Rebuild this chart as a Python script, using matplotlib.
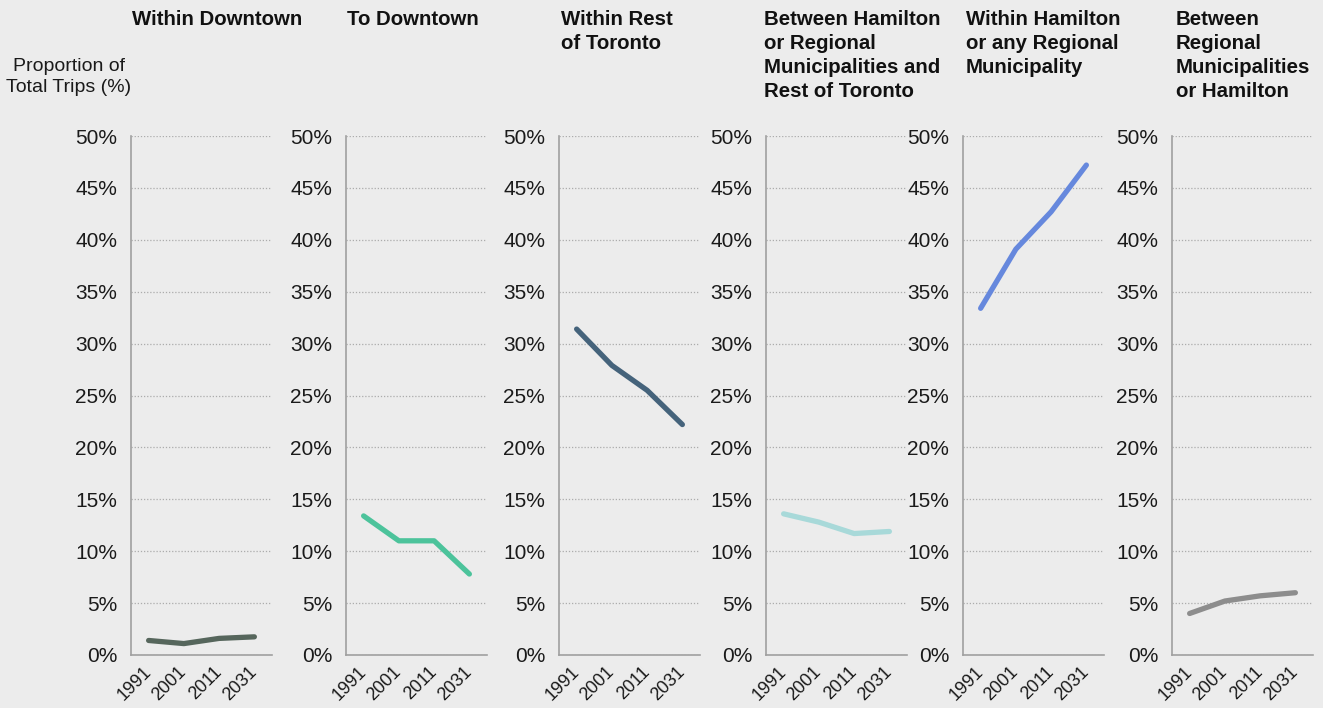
import matplotlib
matplotlib.use("Agg")
import matplotlib.pyplot as plt
import matplotlib.transforms as mtransforms
from matplotlib.ticker import FuncFormatter

plt.rcParams['font.family'] = ['Liberation Sans', 'DejaVu Sans']

# data
years = ['1991', '2001', '2011', '2031']
titles = [
    'Within Downtown',
    'To Downtown',
    'Within Rest\nof Toronto',
    'Between Hamilton\nor Regional\nMunicipalities and\nRest of Toronto',
    'Within Hamilton\nor any Regional\nMunicipality',
    'Between\nRegional\nMunicipalities\nor Hamilton',
]
within_downtown = [1.4, 1.1, 1.6, 1.75]
to_downtown = [13.4, 11.0, 11.0, 7.8]
within_rest = [31.4, 27.9, 25.5, 22.2]
between_ham_rest = [13.6, 12.8, 11.7, 11.9]
within_ham_region = [33.4, 39.1, 42.7, 47.2]
between_regions = [4.0, 5.2, 5.7, 6.0]
series = [within_downtown, to_downtown, within_rest,
          between_ham_rest, within_ham_region, between_regions]
colors = ['#56665c', '#4cc39b', '#45637b', '#a8d9d9', '#6688dd', '#8d8d8d']

W, H = 1323, 708
bg = '#ececec'
fig = plt.figure(figsize=(W / 100, H / 100), dpi=100, facecolor=bg)

# panel left edges / title left edges in pixels
ax_left = [131, 346, 559, 766, 963, 1172]
ax_width = 141
title_x = [132, 347, 561, 764, 966, 1176]
y0_px, y50_px = 655, 136

for i, vals in enumerate(series):
    ax = fig.add_axes([ax_left[i] / W, (H - y0_px) / H,
                       ax_width / W, (y0_px - y50_px) / H])
    ax.set_facecolor(bg)
    x = range(len(years))
    ax.plot(x, vals, color=colors[i], lw=3.8, solid_capstyle='round',
            solid_joinstyle='round', zorder=3)
    ax.set_xlim(-0.5, 3.5)
    ax.set_ylim(0, 50)
    ax.set_yticks(range(0, 51, 5))
    ax.yaxis.set_major_formatter(FuncFormatter(lambda v, p: f'{v:.0f}%'))
    ax.set_xticks(list(x))
    ax.set_xticklabels(years, rotation=45, ha='right', va='center',
                       rotation_mode='anchor', fontsize=13, color='#1a1a1a')
    offset = mtransforms.ScaledTranslation(2.5 / 72, 0, fig.dpi_scale_trans)
    for lab in ax.get_xticklabels():
        lab.set_transform(lab.get_transform() + offset)
    ax.tick_params(axis='x', length=0, pad=10.5)
    ax.tick_params(axis='y', length=0, pad=10, labelsize=15, labelcolor='#1a1a1a')
    ax.grid(axis='y', linestyle=(0, (1, 1.5)), color='#acacac', lw=0.9)
    ax.set_axisbelow(True)
    for s in ['top', 'right']:
        ax.spines[s].set_visible(False)
    for s in ['left', 'bottom']:
        ax.spines[s].set_color('#a0a0a0')
        ax.spines[s].set_linewidth(1.2)

    fig.text(title_x[i] / W, 1 - 10 / H, titles[i], ha='left', va='top',
             fontsize=14.7, fontweight='bold', linespacing=1.33, color='#111111')

fig.text(69 / W, 1 - 58 / H, 'Proportion of\nTotal Trips (%)', ha='center', va='top',
         fontsize=14, linespacing=1.3, color='#1a1a1a')

fig.savefig('out.png', dpi=100, facecolor=bg)
